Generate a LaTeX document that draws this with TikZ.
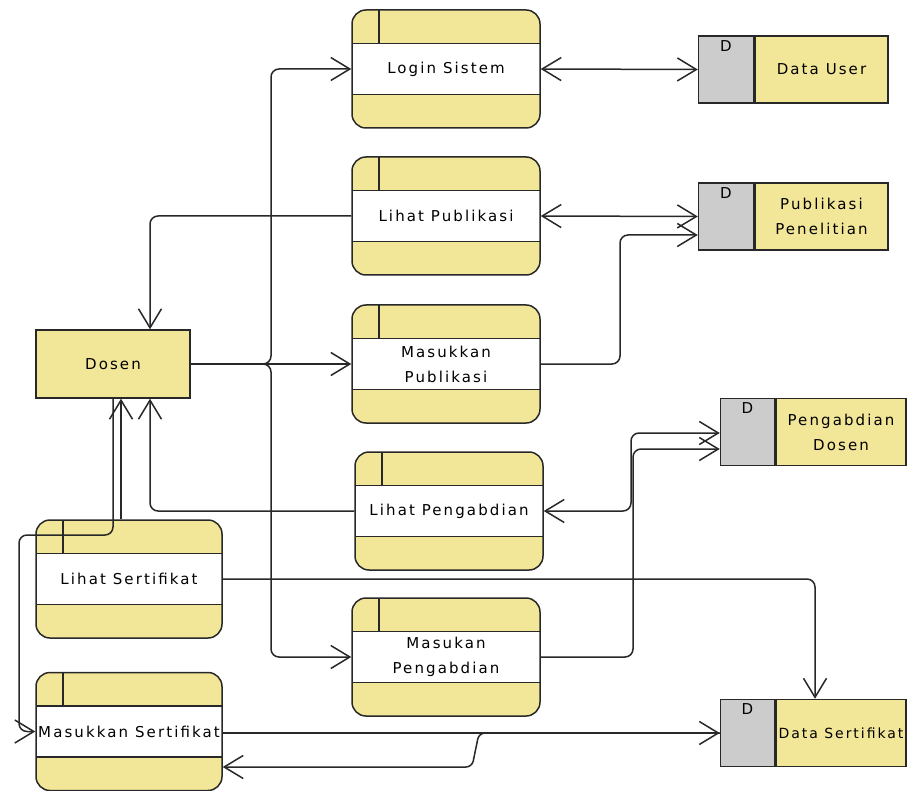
\documentclass[tikz,border=0pt]{standalone}
\usepackage{fontspec}
\setmainfont{DejaVu Sans}[LetterSpace=14]
\usetikzlibrary{arrows.meta,calc}
\definecolor{procy}{RGB}{242,231,153}
\definecolor{storeg}{RGB}{204,204,204}
\definecolor{linec}{RGB}{40,40,40}
\begin{document}
\begin{tikzpicture}[x=1pt,y=-1pt,
  font=\fontsize{15}{25}\selectfont,
  >={Straight Barb[length=19pt,width=23pt]},
  procbox/.style={draw=linec, line width=1.5pt, fill=procy, rounded corners=14pt,
    minimum width=188pt, minimum height=118pt, inner sep=0pt, align=center,
    path picture={
      \fill[white, sharp corners] ([yshift=25.5pt]path picture bounding box.west) rectangle ([yshift=-25.5pt]path picture bounding box.east);
      \draw[linec, line width=1.5pt, sharp corners]
        ([yshift=25.5pt]path picture bounding box.west) -- ([yshift=25.5pt]path picture bounding box.east)
        ([yshift=-25.5pt]path picture bounding box.west) -- ([yshift=-25.5pt]path picture bounding box.east)
        ([xshift=27pt]path picture bounding box.north west) -- ([xshift=27pt,yshift=25.5pt]path picture bounding box.west);
    }},
  extbox/.style={draw=linec, line width=1.5pt, fill=procy, minimum width=154pt, minimum height=68pt, inner sep=0pt},
  storetxt/.style={draw=linec, line width=1.5pt, fill=procy, minimum height=67pt, inner sep=0pt, align=center},
  storeid/.style={draw=linec, line width=1.5pt, fill=storeg, minimum height=67pt, inner sep=0pt},
  storelbl/.style={anchor=north, inner sep=0pt},
  conn/.style={draw=linec, line width=1.5pt, rounded corners=8pt}
]
\useasboundingbox[fill=white] (0,0) rectangle (907,791);

% processes
\node[procbox] (ls) at (446,69) {Login Sistem};
\node[procbox] (lp) at (446,216) {Lihat Publikasi};
\node[procbox] (mp) at (446,364) {Masukkan\\Publikasi};
\node[procbox] (lpg) at (449,511) {Lihat Pengabdian};
\node[procbox] (mpg) at (446,657) {Masukan\\Pengabdian};
\node[procbox, minimum width=186pt] (lsr) at (129,579) {Lihat Sertifikat};
\node[procbox, minimum width=186pt] (msr) at (129,731.5) {Masukkan Sertifikat};

% external entity
\node[extbox] (dosen) at (113,364) {Dosen};

% data stores
\node[storetxt, minimum width=133pt] (du) at (821.5,69.5) {Data User};
\node[storeid, minimum width=55pt, anchor=east] (dud) at (du.west) {};
\node[storelbl] (dudl) at ([yshift=-5pt]dud.north) {D};

\node[storetxt, minimum width=133pt] (pp) at (821.5,216.5) {Publikasi\\Penelitian};
\node[storeid, minimum width=55pt, anchor=east] (ppd) at (pp.west) {};
\node[storelbl] (ppdl) at ([yshift=-5pt]ppd.north) {D};

\node[storetxt, minimum width=130pt] (pd) at (841,432) {Pengabdian\\Dosen};
\node[storeid, minimum width=54pt, anchor=east] (pdd) at (pd.west) {};
\node[storelbl] (pddl) at ([yshift=-5pt]pdd.north) {D};

\node[storetxt, minimum width=130pt, font=\fontsize{14}{25}\selectfont] (ds) at (841,733) {\makebox[126pt][c]{Data Sertifikat}};
\node[storeid, minimum width=54pt, anchor=east] (dsd) at (ds.west) {};
\node[storelbl] (dsdl) at ([yshift=-5pt]dsd.north) {D};

% connectors
\draw[conn,<->] (ls.east) -- (dud.west);
\draw[conn,->] (dosen.east) -- (271,364) -- (271,69) -- (ls.west);
\draw[conn,->] (dosen.east) -- (mp.west);
\draw[conn,->] (dosen.east) -- (271,364) -- (271,657) -- (mpg.west);
\draw[conn,->] (lp.west) -| ($(dosen.north)+(37,0)$);
\draw[conn,<->] (lp.east) -- (ppd.west);
\draw[conn,->] (mp.east) -- (620,364) -- (620,235) -- (ppd.west |- 0,235);
\draw[conn,->] (lpg.west) -| ($(dosen.south)+(37,0)$);
\draw[conn,<->] (lpg.east) -- (631,511) -- (631,433) -- (pdd.west |- 0,433);
\draw[conn,->] (mpg.east) -- (633,657) -- (633,449) -- (pdd.west |- 0,449);
\draw[conn,->] (lsr.east) -| (815,0 |- ds.north);
\draw[conn,->] (msr.east |- dsd.west) -- (dsd.west);
\draw[conn,->,rounded corners=6pt] (dsd.west) -- (479,733) -- (472,767) -- (msr.east |- 0,767);
\draw[conn,->] ($(lsr.north)+(-8,0)$) -- ($(dosen.south)+(8,0)$);
\draw[conn,->] (dosen.south) -- (113,535) -- (19,535) -- (19,731.5) -- (msr.west);
\end{tikzpicture}
\end{document}
